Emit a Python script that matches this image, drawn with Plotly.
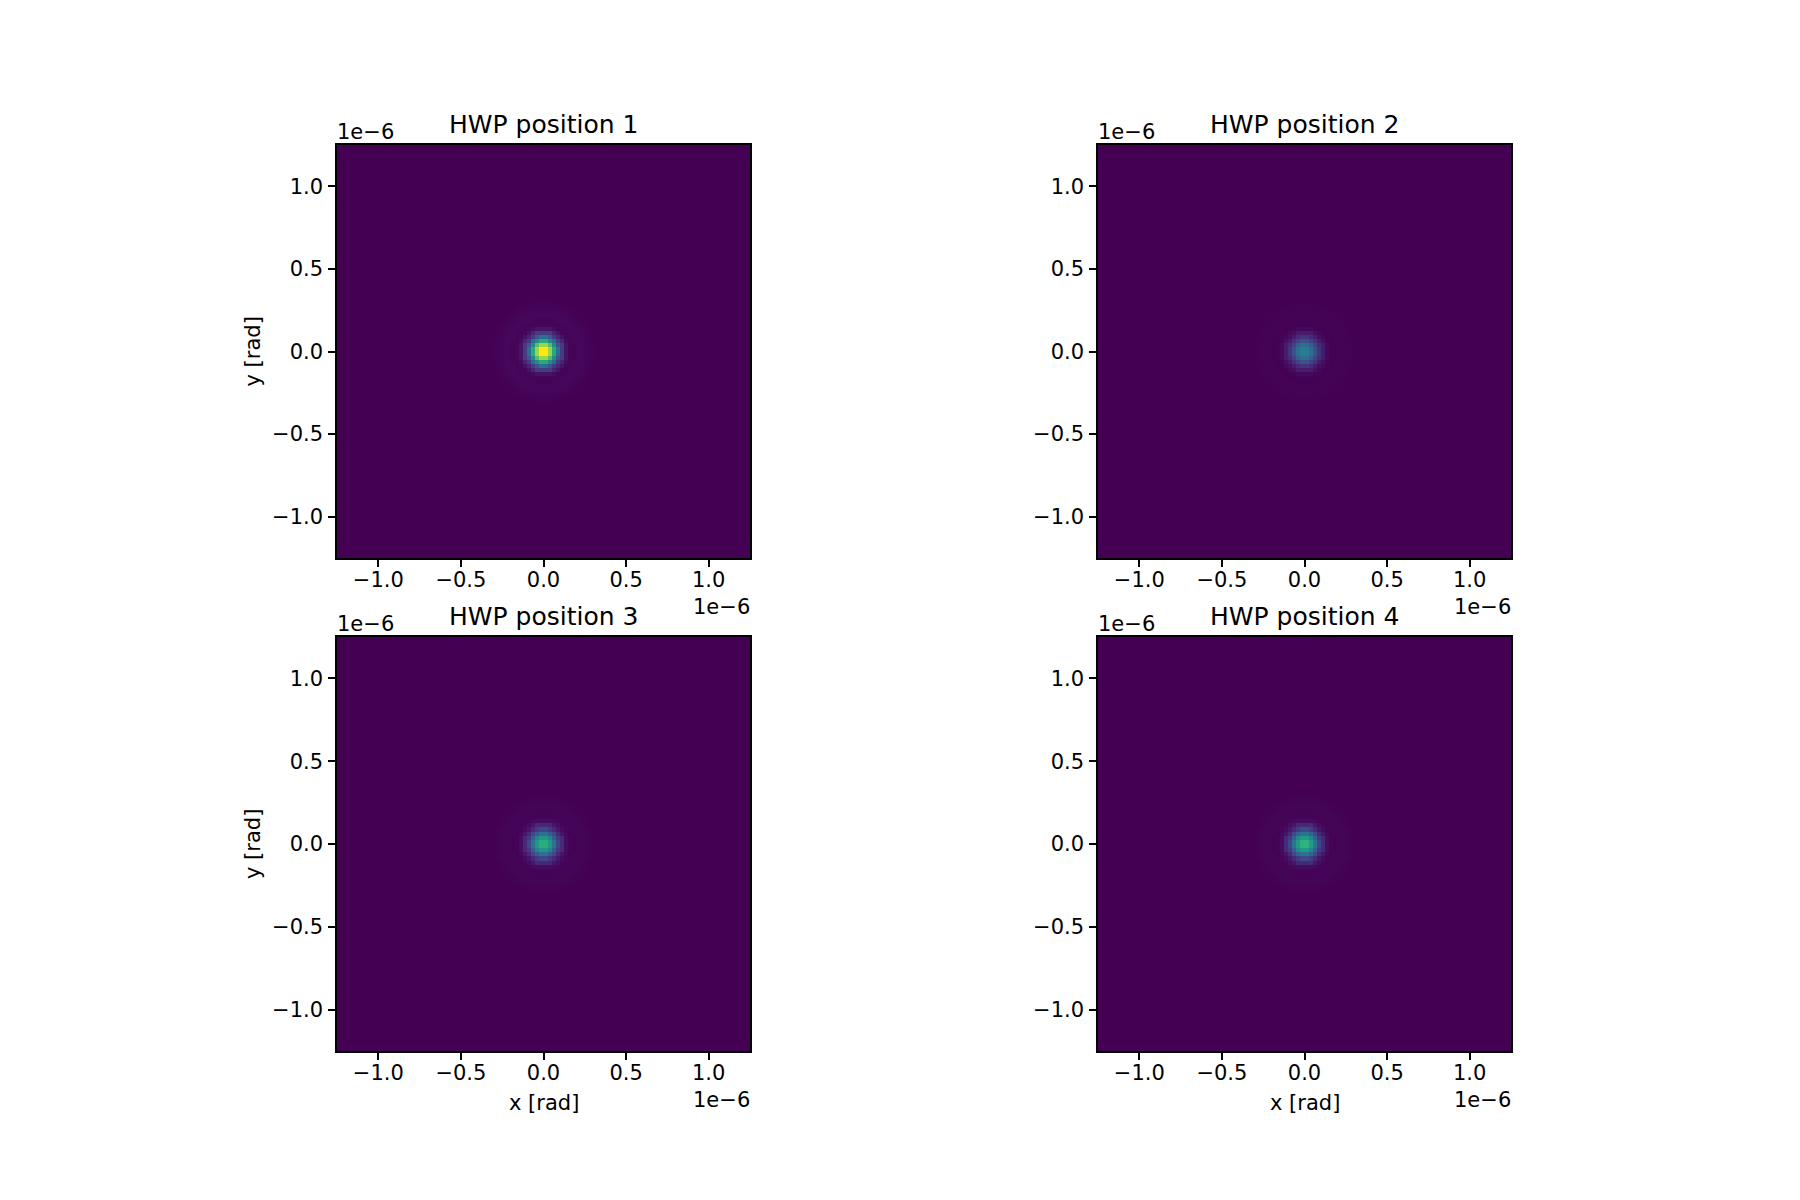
import numpy as np
import plotly.graph_objects as go

# ---- data ----
titles = ["HWP position 1", "HWP position 2", "HWP position 3", "HWP position 4"]
peak_values = [1.0, 0.42, 0.62, 0.64]          # relative peak intensity per panel (shared colour scale)
# radial profile of the spot (normalised), in half-pixel radius bins (0, 0.5, 1.0, ... px)
radial_profile = [1.0, 1.0, 0.97, 0.85, 0.72, 0.60, 0.48, 0.35, 0.28, 0.18, 0.10,
                  0.055, 0.03, 0.015, 0.008, 0.009, 0.013, 0.016, 0.017, 0.017, 0.015,
                  0.012, 0.009, 0.006, 0.004, 0.002, 0.001, 0.0]
n_pix = 100
extent = 1.25e-6
tick_vals = [-1.0e-6, -0.5e-6, 0.0, 0.5e-6, 1.0e-6]
tick_text = ["\u22121.0", "\u22120.5", "0.0", "0.5", "1.0"]
offset_text = "1e\u22126"

# ---- build images ----
step = 2 * extent / n_pix
centers = -extent + step * (np.arange(n_pix) + 0.5)
idx = np.arange(n_pix) - (n_pix - 1) / 2.0
R = np.sqrt(idx[None, :] ** 2 + idx[:, None] ** 2)
ridx = np.clip(np.round(2 * R).astype(int), 0, len(radial_profile) - 1)
prof = np.array(radial_profile)[ridx]

OFF = 6  # effective page offset
W, H = 1784, 1184
# panel pixel boxes in the screenshot (left, top, right, bottom)
boxes = [(335, 143, 748, 556), (1096, 143, 1509, 556),
         (335, 635, 748, 1049), (1096, 635, 1509, 1049)]


def px(x):
    return (x - OFF) / W


def py(y):
    return 1 - (y - OFF) / H


fig = go.Figure()
font = "DejaVu Sans"
annotations = []
for k in range(4):
    l, t, r, b = boxes[k]
    ax = "" if k == 0 else str(k + 1)
    fig.add_trace(go.Heatmap(
        x=centers, y=centers, z=peak_values[k] * prof,
        colorscale="Viridis", zmin=0, zmax=max(peak_values),
        showscale=False, xaxis="x" + ax, yaxis="y" + ax, hoverinfo="skip"))
    axis_common = dict(
        range=[-extent, extent], tickvals=tick_vals, ticktext=tick_text,
        ticks="outside", ticklen=7, tickwidth=1.5, tickcolor="black",
        showline=True, linecolor="black", linewidth=1.5, mirror=True,
        showgrid=False, zeroline=False,
        tickfont=dict(family=font, size=21, color="black"))
    fig.layout["xaxis" + ax] = dict(domain=[px(l), px(r)], anchor="y" + ax,
                                    ticklabelstandoff=-5, **axis_common)
    fig.layout["yaxis" + ax] = dict(domain=[py(b), py(t)], anchor="x" + ax,
                                    ticklabelstandoff=1, **axis_common)
    cx = (l + r) / 2
    cy = (t + b) / 2
    # title
    annotations.append(dict(x=px(cx), y=py(t - 21), xref="paper", yref="paper",
                            text=titles[k], showarrow=False, xanchor="center", yanchor="middle",
                            font=dict(family=font, size=25, color="black")))
    # y offset text
    annotations.append(dict(x=px(l - 2), y=py(t - 13), xref="paper", yref="paper",
                            text=offset_text, showarrow=False, xanchor="left", yanchor="middle",
                            font=dict(family=font, size=21, color="black")))
    # x offset text
    annotations.append(dict(x=px(r + 2), y=py(b + 49), xref="paper", yref="paper",
                            text=offset_text, showarrow=False, xanchor="right", yanchor="middle",
                            font=dict(family=font, size=21, color="black")))
    if k in (0, 2):
        annotations.append(dict(x=px(251), y=py(cy), xref="paper", yref="paper",
                                text="y [rad]", showarrow=False, textangle=-90,
                                xanchor="center", yanchor="middle",
                                font=dict(family=font, size=21, color="black")))
    if k in (2, 3):
        annotations.append(dict(x=px(cx), y=py(b + 52), xref="paper", yref="paper",
                                text="x [rad]", showarrow=False,
                                xanchor="center", yanchor="middle",
                                font=dict(family=font, size=21, color="black")))

fig.update_layout(width=W, height=H, autosize=False,
                  margin=dict(l=0, r=0, t=0, b=0),
                  paper_bgcolor="white", plot_bgcolor="white",
                  annotations=annotations, showlegend=False)
fig.write_html("out.html")
